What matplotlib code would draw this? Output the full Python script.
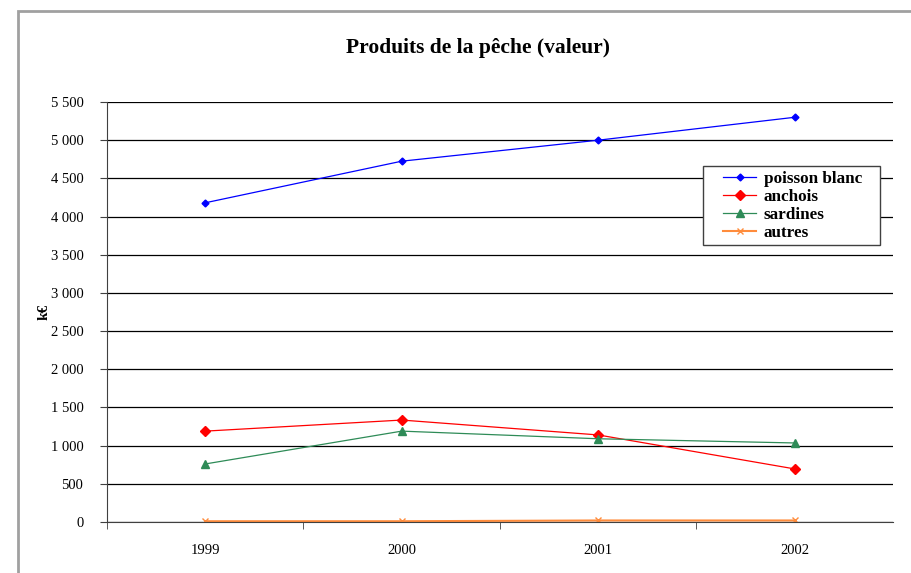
import matplotlib
matplotlib.use("Agg")
import matplotlib.pyplot as plt
from matplotlib.ticker import FuncFormatter, FixedLocator
from matplotlib.patches import Rectangle

years = ["1999", "2000", "2001", "2002"]
poisson_blanc = [4180, 4725, 5000, 5300]
anchois = [1190, 1335, 1140, 695]
sardines = [760, 1190, 1090, 1035]
autres = [10, 10, 20, 20]

plt.rcParams['font.family'] = ['Liberation Serif', 'DejaVu Serif']

W, H = 912, 573
fig = plt.figure(figsize=(W / 100, H / 100), dpi=100)
# outer chart frame (gray, runs off the right and bottom edge)
fig.patches.append(Rectangle((18 / W, -0.1), 1.2, 1 - 11 / H + 0.1,
                             transform=fig.transFigure, fill=False,
                             edgecolor='#a0a0a0', linewidth=2))

ax = fig.add_axes([107 / W, 1 - 522 / H, (893 - 107) / W, (522 - 102) / H])
x = list(range(len(years)))

ax.plot(x, poisson_blanc, color='blue', marker='D', markersize=3.5, linewidth=0.9,
        label='poisson blanc')
ax.plot(x, anchois, color='red', marker='D', markersize=5, linewidth=0.9,
        label='anchois')
ax.plot(x, sardines, color='#2e8b57', marker='^', markersize=6, linewidth=0.9,
        label='sardines')
ax.plot(x, autres, color='#ff8c3c', marker='x', markersize=5, linewidth=1.5,
        label='autres')

ax.set_xlim(-0.5, len(years) - 0.5)
ax.set_ylim(0, 5500)
ax.set_yticks(range(0, 5501, 500))
ax.yaxis.set_major_formatter(FuncFormatter(lambda v, p: f"{int(v):,}".replace(",", " ")))
ax.yaxis.grid(True, color='black', linewidth=0.9)
ax.set_axisbelow(True)

ax.set_xticks(x)
ax.set_xticklabels(years)
ax.tick_params(axis='x', length=0, pad=16, labelsize=10.5)
ax.xaxis.set_minor_locator(FixedLocator([i + 0.5 for i in range(-1, len(years) - 1)]))
ax.tick_params(axis='x', which='minor', length=5, direction='out', color='#404040')
ax.tick_params(axis='y', length=5, direction='out', labelsize=10.5, color='#404040',
               pad=12)

for s in ['top', 'right']:
    ax.spines[s].set_visible(False)
ax.spines['left'].set_color('#404040')
ax.spines['bottom'].set_color('#404040')

ax.set_ylabel("k€", fontweight='bold', fontsize=11, labelpad=0)
fig.text(478 / W, 1 - 48 / H, "Produits de la pêche (valeur)", ha='center',
         va='center', fontsize=15.5, fontweight='bold')

# legend box drawn separately so it can be wider than the entries
fig.patches.append(Rectangle((703 / W, 1 - 245 / H), 177 / W, 79 / H,
                             transform=fig.transFigure, facecolor='white',
                             edgecolor='#404040', linewidth=1, zorder=3))
leg = fig.legend(loc='upper left', bbox_to_anchor=(720 / W, 1 - 168 / H),
                 borderaxespad=0, frameon=False,
                 prop={'weight': 'bold', 'size': 12.3}, handlelength=1.9,
                 borderpad=0.2, labelspacing=0.1, handletextpad=0.45)
leg.set_zorder(4)

fig.savefig("out.png", dpi=100)
